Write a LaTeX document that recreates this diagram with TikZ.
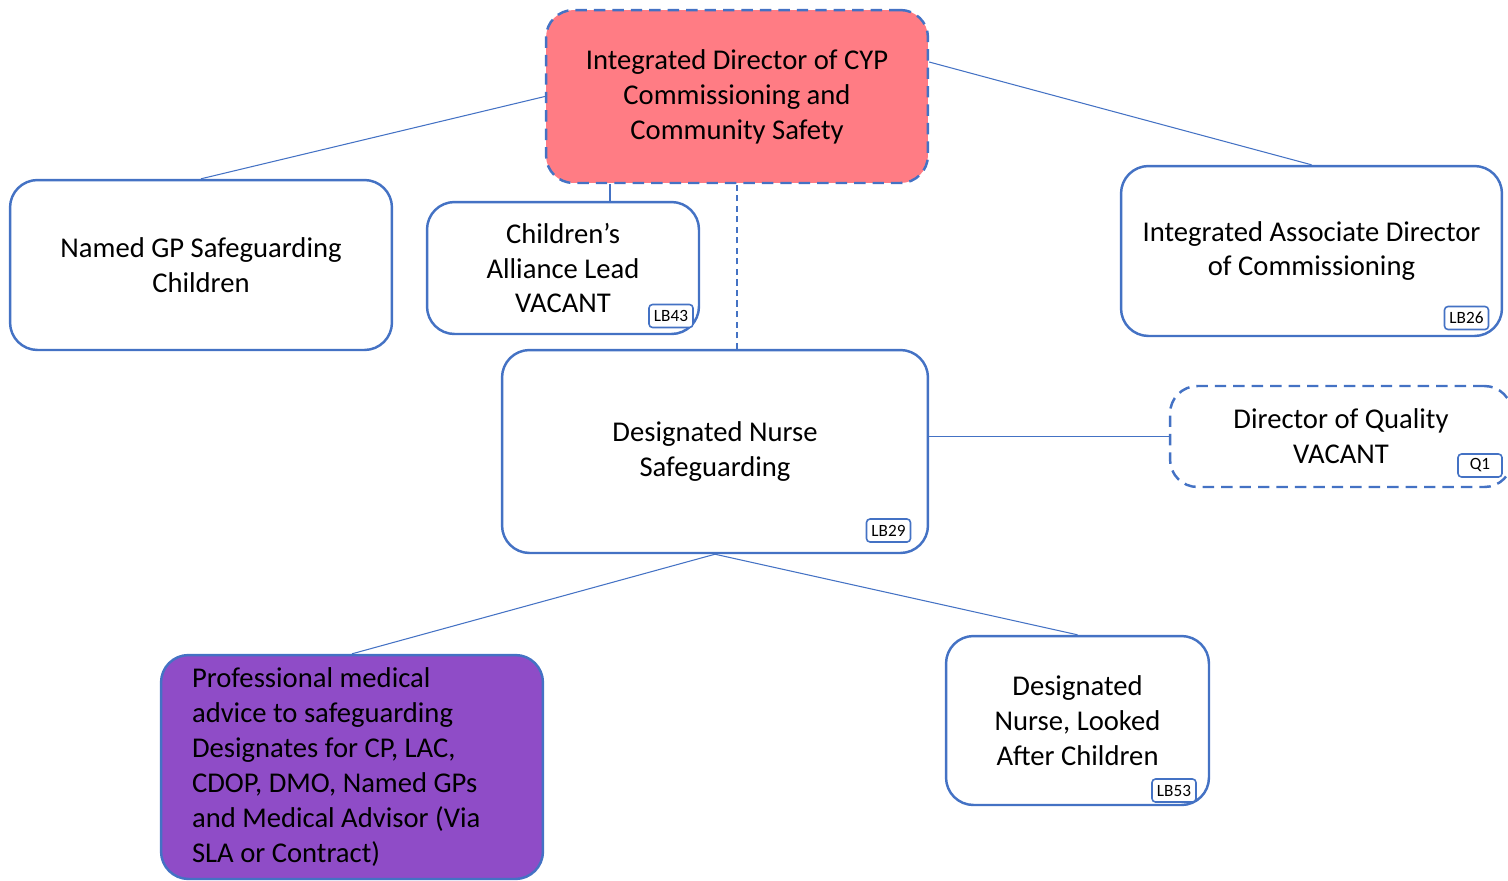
\documentclass[tikz,border=0pt]{standalone}
\usepackage{fontspec}
\setmainfont{Carlito}
\usetikzlibrary{positioning}

\definecolor{lineblue}{HTML}{4472C4}
\definecolor{dirpink}{HTML}{FF7C84}
\definecolor{advpurple}{HTML}{8F4CC7}

\tikzset{
  role/.style={draw=lineblue, line width=1.4pt, rounded corners=0.55cm,
    fill=white, align=center, font=\fontsize{16.3}{19.9}\selectfont,
    inner sep=0pt},
  vacant/.style={role, dash pattern=on 6.5pt off 4pt},
  tag/.style={draw=lineblue, line width=0.9pt, rounded corners=2pt,
    fill=white, minimum width=0.88cm, minimum height=0.46cm, inner sep=0pt,
    font=\fontsize{9.8}{11}\selectfont},
  link/.style={draw=lineblue, line width=0.6pt},
}

\begin{document}
\begin{tikzpicture}[x=0.02cm, y=-0.02cm]
  \useasboundingbox (0,0) rectangle (1508,880);

  % Define nodes
  \node[vacant, fill=dirpink, minimum width=7.64cm, minimum height=3.46cm] (dir) at (737,96.5)
    {Integrated Director of CYP\\Commissioning and\\Community Safety};
  \node[role, minimum width=7.64cm, minimum height=3.4cm] (gp) at (201,265)
    {Named GP Safeguarding\\Children};
  \node[role, minimum width=5.44cm, minimum height=2.64cm] (cal) at (563,268)
    {Children’s\\Alliance Lead\\VACANT};
  \node[role, minimum width=7.62cm, minimum height=3.4cm] (iad) at (1311.5,251)
    {Integrated Associate Director\\of Commissioning};
  \node[role, minimum width=8.52cm, minimum height=4.06cm] (dns) at (715,451.5)
    {Designated Nurse\\Safeguarding};
  \node[vacant, minimum width=6.84cm, minimum height=2.02cm] (doq) at (1341,436.5)
    {Director of Quality\\VACANT};
  \node[role, fill=advpurple, minimum width=7.64cm, minimum height=4.48cm,
        text width=6.4cm, align=flush left] (pma) at (352,767)
    {Professional medical\\advice to safeguarding\\Designates for CP, LAC,\\CDOP, DMO, Named GPs\\and Medical Advisor (Via\\SLA or Contract)};
  \node[role, minimum width=5.26cm, minimum height=3.38cm] (dnl) at (1077.5,720.5)
    {Designated\\Nurse, Looked\\After Children};

  % Post numbers
  \node[tag] (lb43) at (671,316) {LB43};
  \node[tag] (lb26) at (1466.5,318) {LB26};
  \node[tag] (lb29) at (888.5,530.5) {LB29};
  \node[tag] (q1) at (1480,465.5) {Q1};
  \node[tag] (lb53) at (1174,790.5) {LB53};

  % Connect the nodes
  \draw[link] (gp.north) -- (dir.west);
  \draw[link] (iad.north) -- (dir.east |- 0,62);
  \draw[link] (cal.north -| 610,0) -- (dir.south -| 610,0);
  \draw[link, dash pattern=on 3.5pt off 2.5pt] (dns.north -| 737,0) -- (dir.south);
  \draw[link] (doq.west -| dns.east) -- (doq.west);
  \draw[link] (dns.south) -- (pma.north);
  \draw[link] (dns.south) -- (dnl.north);
\end{tikzpicture}
\end{document}
